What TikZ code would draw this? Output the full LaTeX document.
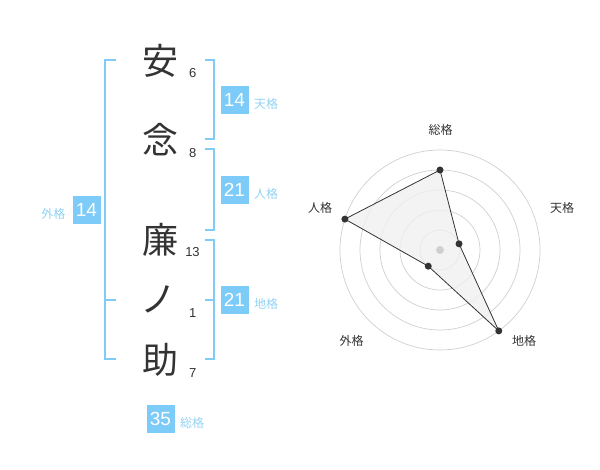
\documentclass[tikz,border=0pt]{standalone}
\usepackage{fontspec}
\setmainfont{Liberation Sans}
\newfontfamily\cjk{Noto Sans CJK JP}
\definecolor{brk}{HTML}{80CCF7}
\definecolor{boxc}{HTML}{7DCBF8}
\definecolor{lbl}{HTML}{92D2F4}
\definecolor{ink}{HTML}{333333}
\definecolor{ring}{HTML}{CFCFCF}
\tikzset{
  kanji/.style={inner sep=0pt, text=ink, font=\cjk\fontsize{36}{36}\selectfont},
  strokes/.style={inner sep=0pt, text=ink, font=\fontsize{13}{13}\selectfont},
  numbox/.style={fill=boxc, text=white, minimum width=28pt, minimum height=28pt, inner sep=0pt, font=\fontsize{19}{19}\selectfont},
  kaku/.style={inner sep=0pt, text=lbl, font=\cjk\fontsize{12}{12}\selectfont},
  bracket/.style={draw=brk, line width=2pt},
  radlbl/.style={inner sep=0pt, text=ink, font=\cjk\fontsize{12}{12}\selectfont},
  dot/.style={circle, fill=ink, inner sep=0pt, minimum size=7pt},
}
\begin{document}
\begin{tikzpicture}[x=1pt,y=-1pt]
\useasboundingbox (0,0) rectangle (600,470);
% characters
\node[kanji] (c1) at (160,61) {安};
\node[kanji] (c2) at (160,140) {念};
\node[kanji] (c3) at (160,239.5) {廉};
\node[kanji] (c4) at (158,299.5) {ノ};
\node[kanji] (c5) at (160,360) {助};
\node[strokes] (s1) at (192.7,72.7) {6};
\node[strokes] (s2) at (192.7,153.3) {8};
\node[strokes] (s3) at (192.5,252.5) {13};
\node[strokes] (s4) at (192.7,312.7) {1};
\node[strokes] (s5) at (192.7,372.7) {7};
% brackets
\draw[bracket] (116,60) -- (105,60) -- (105,359) -- (116,359);
\draw[bracket] (105,300) -- (116,300);
\draw[bracket] (205,60) -- (214,60) -- (214,139) -- (205,139);
\draw[bracket] (205,149) -- (214,149) -- (214,230) -- (205,230);
\draw[bracket] (205,240) -- (214,240) -- (214,359) -- (205,359);
\draw[bracket] (205,300) -- (214,300);
% boxes
\node[numbox] (ten) at (234.5,100) {14};
\node[kaku] (tenl) at (266,103.5) {天格};
\node[numbox] (jin) at (234.5,190) {21};
\node[kaku] (jinl) at (266,194) {人格};
\node[numbox] (chi) at (234.5,300) {21};
\node[kaku] (chil) at (266,304) {地格};
\node[numbox] (gai) at (86.5,210) {14};
\node[kaku] (gail) at (53.5,213.5) {外格};
\node[numbox] (sou) at (160.5,419) {35};
\node[kaku] (soul) at (192,422.5) {総格};
% radar
\begin{scope}[shift={(440,250)}, yscale=-1]
  \foreach \r in {20,40,60,80,100} \draw[ring, line width=0.7pt] (0,0) circle[radius=\r];
  \coordinate (pS) at (90:80);
  \coordinate (pT) at (18:20);
  \coordinate (pC) at (-54:100);
  \coordinate (pG) at (-126:20);
  \coordinate (pJ) at (162:100);
  \filldraw[fill=black!6, fill opacity=0.8, draw=ink, line width=0.8pt] (pS) -- (pT) -- (pC) -- (pG) -- (pJ) -- cycle;
  \node[circle, fill=ring, inner sep=0pt, minimum size=8pt] (ctr) at (0,0) {};
  \node[dot] (dS) at (pS) {};
  \node[dot] (dT) at (pT) {};
  \node[dot] (dC) at (pC) {};
  \node[dot] (dG) at (pG) {};
  \node[dot] (dJ) at (pJ) {};
\end{scope}
\node[radlbl] (rS) at (440.5,130) {総格};
\node[radlbl] (rT) at (562,208) {天格};
\node[radlbl] (rC) at (524,340.5) {地格};
\node[radlbl] (rG) at (351.5,341) {外格};
\node[radlbl] (rJ) at (320,208) {人格};
\end{tikzpicture}
\end{document}
